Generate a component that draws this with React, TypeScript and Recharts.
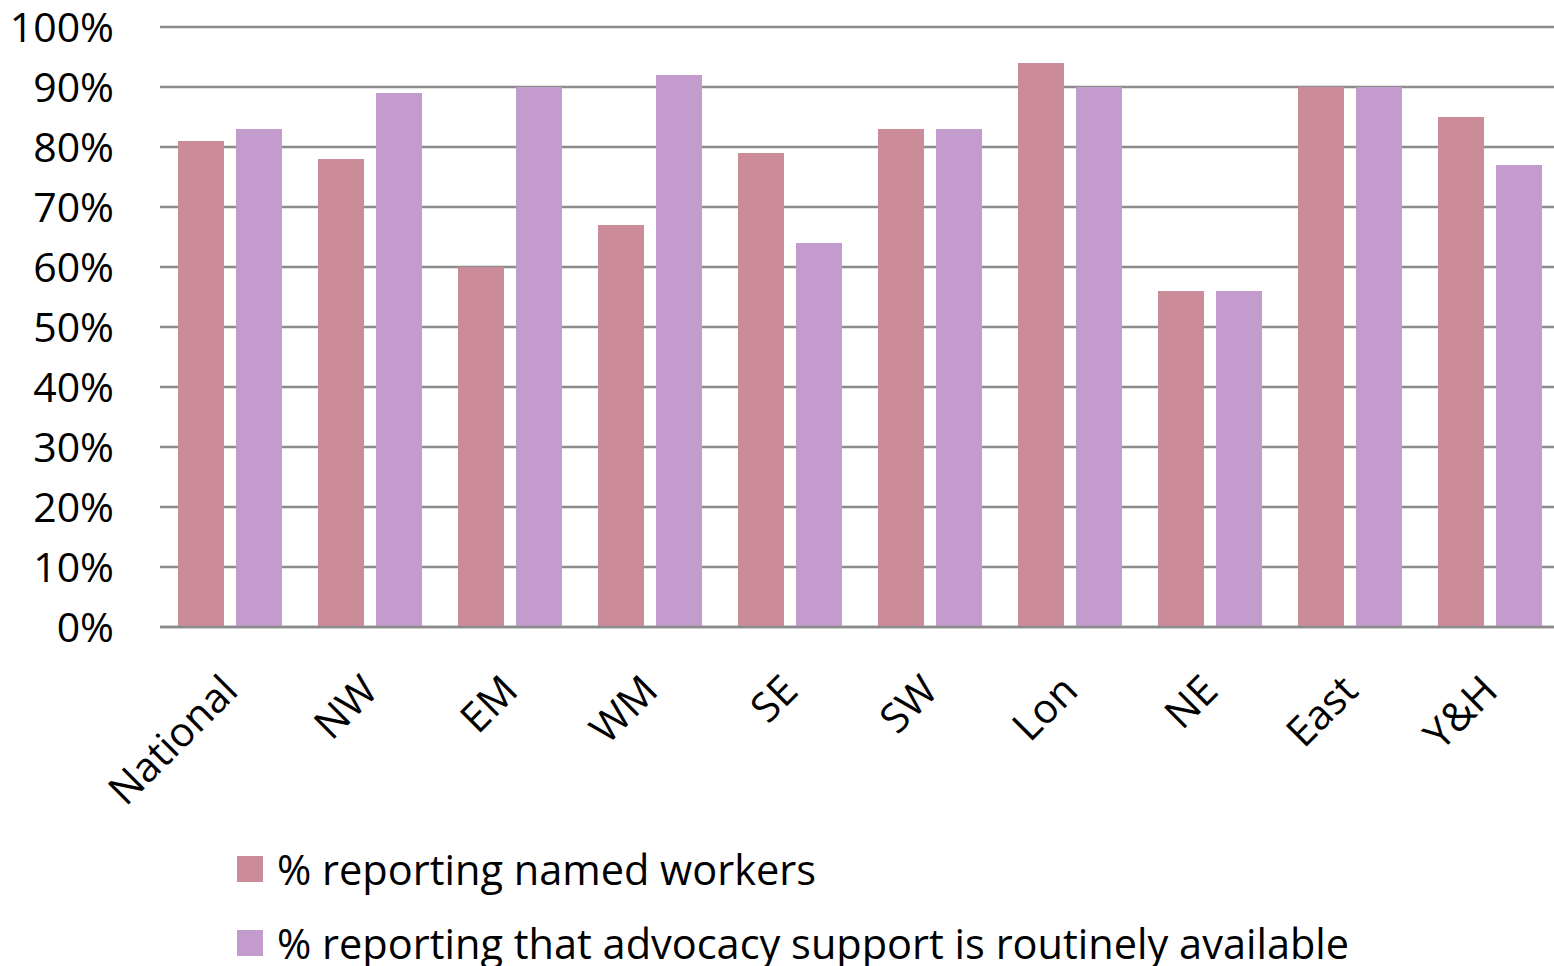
import { BarChart, Bar, XAxis, YAxis, CartesianGrid, Legend } from "recharts";

const regions = ["National", "NW", "EM", "WM", "SE", "SW", "Lon", "NE", "East", "Y&H"];
const namedWorkers = [81, 78, 60, 67, 79, 83, 94, 56, 90, 85];
const advocacySupport = [83, 89, 90, 92, 64, 83, 90, 56, 90, 77];
const yTicks = [0, 10, 20, 30, 40, 50, 60, 70, 80, 90, 100];

const seriesNames = [
    "% reporting named workers",
    "% reporting that advocacy support is routinely available",
];
const COLORS = ["#CB8B99", "#C39BCC"];

const data = regions.map((region, i) => ({
    region,
    named: namedWorkers[i],
    advocacy: advocacySupport[i],
}));

const FONT = "'Open Sans', sans-serif";

function RegionTick(props: any) {
    const { x, y, payload } = props;
    return (
        <g transform={`translate(${x + 10},${y + 58})`}>
            <text
                textAnchor="end"
                transform="rotate(-45)"
                fontFamily={FONT}
                fontSize={41}
                fill="#000"
            >
                {payload.value}
            </text>
        </g>
    );
}

function LegendBox() {
    return (
        <div style={{ height: 150, fontFamily: FONT, fontSize: 41.5, color: "#000" }}>
            {seriesNames.map((name, i) => (
                <div
                    key={name}
                    style={{ display: "flex", alignItems: "center", height: 74, whiteSpace: "nowrap" }}
                >
                    <span
                        style={{
                            display: "inline-block",
                            width: 26,
                            height: 26,
                            background: COLORS[i],
                            marginRight: 14,
                        }}
                    />
                    {name}
                </div>
            ))}
        </div>
    );
}

export default function App() {
    return (
        <div
            style={{
                position: "fixed",
                top: 0,
                left: 0,
                width: 1554,
                height: 966,
                overflow: "hidden",
                background: "#fff",
            }}
        >
            <BarChart
                width={1560}
                height={966}
                data={data}
                margin={{ top: 27, right: 0, bottom: 0, left: 0 }}
                barCategoryGap={18}
                barGap={12}
            >
                <CartesianGrid vertical={false} stroke="#8c8c8c" strokeWidth={2.5} />
                <XAxis
                    dataKey="region"
                    height={189}
                    interval={0}
                    tickLine={false}
                    axisLine={{ stroke: "#8c8c8c", strokeWidth: 2.5 }}
                    tick={<RegionTick />}
                />
                <YAxis
                    width={160}
                    domain={[0, 100]}
                    ticks={yTicks}
                    tickFormatter={(v: number) => `${v}%`}
                    axisLine={false}
                    tickLine={false}
                    tickSize={0}
                    tickMargin={46}
                    tick={{ fontFamily: FONT, fontSize: 41, fill: "#000" }}
                />
                <Legend
                    verticalAlign="bottom"
                    content={<LegendBox />}
                    wrapperStyle={{ left: 237, top: 832, width: 1300, bottom: "auto" }}
                />
                <Bar dataKey="named" name={seriesNames[0]} fill={COLORS[0]} isAnimationActive={false} />
                <Bar dataKey="advocacy" name={seriesNames[1]} fill={COLORS[1]} isAnimationActive={false} />
            </BarChart>
        </div>
    );
}
